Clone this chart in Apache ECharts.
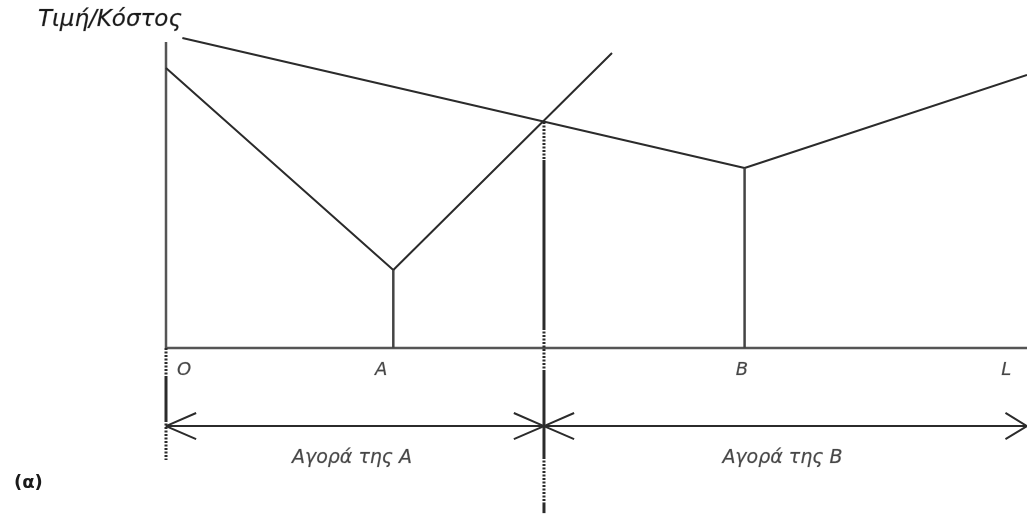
<!DOCTYPE html>
<html>
<head>
<meta charset="utf-8">
<script src="https://cdn.jsdelivr.net/npm/echarts@6/dist/echarts.min.js"></script>
<style>
  html, body { margin: 0; padding: 0; background: #fff; }
  #chart { width: 1027px; height: 525px; }
</style>
</head>
<body>
<div id="chart"></div>
<script>
// distance along the line O..L (0..100), price/cost (0..100)
const priceA = [[0, 87.5], [26.4, 24.4], [51.8, 92.2]];
const priceB = [[1.9, 96.9], [67.2, 56.25], [100, 85.3]];
const stemA = [[26.4, 0], [26.4, 24.4]];
const stemB = [[67.2, 0], [67.2, 56.25]];
const axisV = [[0, 0], [0, 95.6]];
const axisH = [[0, 0], [100, 0]];
const boundary = 43.9;

// broken vertical markers: [from, to] in y units
const boundarySolid = [[58.75, 6.25], [-7.5, -34.06], [-48.4, -51.6]];
const boundaryDotted = [[70.6, 58.75], [6.25, -7.5], [-34.06, -48.4]];
const originSolid = [[-9.06, -22.5]];
const originDotted = [[0, -9.06], [-22.5, -35]];

const arrowY = -24.4;
const markets = [[0, boundary], [boundary, 100]];

const pointLabels = [[2.1, -6.9, 'O'], [25.0, -6.9, 'A'], [66.9, -6.9, 'B'], [97.6, -6.9, 'L']];
const marketLabels = [[21.6, -34.4, 'Αγορά της A'], [71.6, -34.4, 'Αγορά της B']];

const ink = '#2b2b2b';
const font = 'DejaVu Sans';
const series = [];

function seg(data, width, color, type) {
    series.push({
        type: 'line',
        data: data,
        symbol: 'none',
        silent: true,
        clip: false,
        animation: false,
        lineStyle: { color: color || ink, width: width || 2, type: type || 'solid' }
    });
}

seg(axisV, 2.5, '#555');
seg(axisH, 2.5, '#555');
seg(priceA, 2);
seg(priceB, 2);
seg(stemA, 2.5, '#444');
seg(stemB, 2.5, '#444');

boundarySolid.forEach(function (s) { seg([[boundary, s[0]], [boundary, s[1]]], 3); });
boundaryDotted.forEach(function (s) { seg([[boundary, s[0]], [boundary, s[1]]], 3, ink, [2, 1.5]); });
originSolid.forEach(function (s) { seg([[0, s[0]], [0, s[1]]], 3); });
originDotted.forEach(function (s) { seg([[0, s[0]], [0, s[1]]], 3, ink, [2, 1.5]); });

// double arrows with open heads
const headW = 3.5, headH = 4.1;
markets.forEach(function (m, i) {
    seg([[m[0], arrowY], [m[1], arrowY]], 2);
    const w = i === 1 ? 2.5 : headW;
    seg([[m[0] + headW, arrowY + headH], [m[0], arrowY], [m[0] + headW, arrowY - headH]], 2);
    seg([[m[1] - w, arrowY + headH], [m[1], arrowY], [m[1] - w, arrowY - headH]], 2);
});

function labels(data, size) {
    series.push({
        type: 'scatter',
        data: data,
        symbolSize: 0,
        silent: true,
        clip: false,
        animation: false,
        label: {
            show: true,
            position: 'inside',
            formatter: function (p) { return p.value[2]; },
            color: '#1a1a1a',
            fontFamily: font,
            fontStyle: 'italic',
            fontWeight: 500,
            fontSize: size,
            textBorderColor: 'rgba(40,40,40,0.35)',
            textBorderWidth: 0.6
        }
    });
}
labels(pointLabels, 18);
labels(marketLabels, 19);

const chart = echarts.init(document.getElementById('chart'));
chart.setOption({
    animation: false,
    grid: { left: 166, right: 0, top: 28, bottom: 1 },
    xAxis: { type: 'value', min: 0, max: 100, show: false },
    yAxis: { type: 'value', min: -55, max: 100, show: false },
    graphic: [
        { type: 'text', x: 38, y: 20, style: { text: 'Τιμή/Κόστος', font: 'italic 23px "DejaVu Sans"', fill: '#1a1a1a', stroke: 'rgba(40,40,40,0.35)', lineWidth: 0.6, textVerticalAlign: 'middle' } },
        { type: 'text', x: 14, y: 483, style: { text: '(α)', font: 'bold 18px "DejaVu Sans"', fill: '#1a1a1a', textVerticalAlign: 'middle' } }
    ],
    series: series
});
</script>
</body>
</html>
